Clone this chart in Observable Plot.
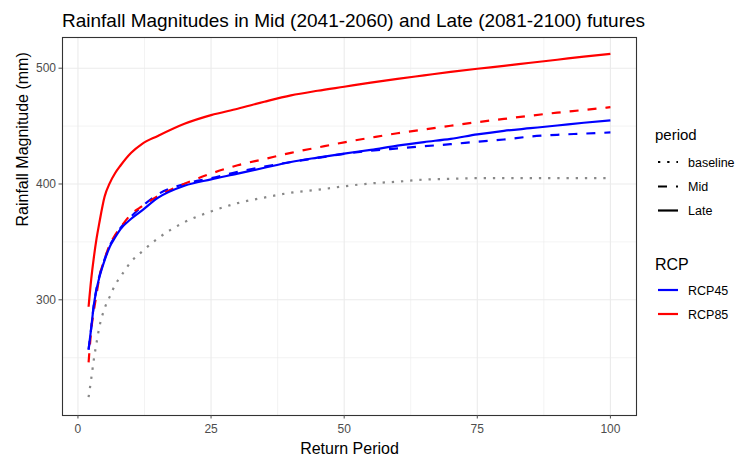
<!DOCTYPE html>
<html>
<head>
<meta charset="utf-8">
<script src="https://cdn.jsdelivr.net/npm/d3@7"></script>
<script src="https://cdn.jsdelivr.net/npm/@observablehq/plot@0.6"></script>
<style>
  body { margin: 0; background: #fff; font-family: "Liberation Sans", Arial, sans-serif; }
  #wrap { position: relative; width: 748px; height: 462px; overflow: hidden; background: #fff; }
  #wrap svg { position: absolute; left: 0; top: 0; }
</style>
</head>
<body>
<div id="wrap"></div>
<script>
// ---- Data ----
const returnPeriod = [2, 2.5, 3, 3.5, 4, 5, 6, 7, 8, 10, 12, 15, 20, 25, 30, 35, 40, 45, 50, 55, 60, 65, 70, 75, 80, 85, 90, 95, 100];
const baseline  = [216, 232, 249, 263, 276, 292.5, 303, 313, 320, 333, 341.5, 353, 367, 376.3, 383.5, 388.3, 392.5, 395, 398, 400.5, 402, 403.8, 404.5, 405, 405, 405, 405, 405, 405];
const rcp45Mid  = [257, 276, 296, 310, 320, 335, 347, 355, 362, 372, 380.5, 391, 400, 405, 410.5, 415, 419, 422.5, 426, 428.7, 430.7, 432.6, 434.4, 436.5, 438.4, 441, 442.5, 443.5, 444.5];
const rcp45Late = [257, 276, 296, 309, 319, 334, 346, 354, 361, 370, 377, 388, 398.5, 404, 408.9, 414, 419, 422.8, 426.3, 429.5, 433.1, 436.2, 439, 442.8, 445.9, 448.2, 450.5, 452.9, 455];
const rcp85Mid  = [246, 274, 291, 305, 319, 335, 348, 356, 362.5, 374, 380.7, 389.5, 400.2, 409, 416.2, 421.5, 426.9, 431.5, 436, 440, 443.8, 447, 450.3, 453.4, 456.2, 459, 461.6, 463.9, 466.3];
const rcp85Late = [294, 318, 337, 353, 366, 389, 401, 409.5, 416, 427, 434.5, 441.5, 452, 459.5, 465, 471, 476.5, 480.5, 484, 487.5, 490.8, 493.8, 496.8, 499.5, 502, 504.7, 507.3, 510, 512.4];

const periodLabels = ["baseline", "Mid", "Late"];
const rcpLabels = ["RCP45", "RCP85"];
const xTicks = [0, 25, 50, 75, 100];
const xMinor = [12.5, 37.5, 62.5, 87.5];
const yTicks = [300, 400, 500];
const yMinor = [250, 350, 450];

const titleText = "Rainfall Magnitudes in Mid (2041-2060) and Late (2081-2100) futures";
const xTitle = "Return Period";
const yTitle = "Rainfall Magnitude (mm)";

// ---- build tidy rows ----
const seriesDefs = [
  {rcp: "baseline", period: "baseline", values: baseline},
  {rcp: "RCP45", period: "Mid", values: rcp45Mid},
  {rcp: "RCP45", period: "Late", values: rcp45Late},
  {rcp: "RCP85", period: "Mid", values: rcp85Mid},
  {rcp: "RCP85", period: "Late", values: rcp85Late}
];
const rows = seriesDefs.flatMap(s => s.values.map((v, i) => ({x: returnPeriod[i], y: v, rcp: s.rcp, period: s.period, key: s.rcp + "-" + s.period})));

const colorDomain = ["baseline", "RCP45", "RCP85"];
const colorRange = ["#888888", "#0000FF", "#FF0000"];
const dashes = {baseline: "2.3,6.9", Mid: "9,9", Late: null};

const lineMarks = periodLabels.map(p => Plot.line(rows.filter(d => d.period === p), {
  x: "x", y: "y", z: "key", stroke: "rcp", strokeWidth: 2.2,
  strokeDasharray: dashes[p] || undefined, strokeLinecap: "butt", curve: "monotone-x"
}));

const chart = Plot.plot({
  width: 748, height: 462,
  marginLeft: 62, marginRight: 112, marginTop: 37, marginBottom: 47,
  style: {fontFamily: "'Liberation Sans', Arial, sans-serif", fontSize: "12px", background: "transparent"},
  x: {domain: [-2.9, 104.9]},
  y: {domain: [200.1, 526.5]},
  color: {domain: colorDomain, range: colorRange},
  marks: [
    Plot.ruleY(yMinor, {stroke: "#EBEBEB", strokeWidth: 0.6}),
    Plot.ruleX(xMinor, {stroke: "#EBEBEB", strokeWidth: 0.6}),
    Plot.ruleY(yTicks, {stroke: "#EBEBEB", strokeWidth: 1.1}),
    Plot.ruleX(xTicks, {stroke: "#EBEBEB", strokeWidth: 1.1}),
    ...lineMarks,
    Plot.frame({stroke: "#333333", strokeWidth: 1.1}),
    Plot.axisX({ticks: xTicks, tickSize: 3.5, tickPadding: 5, color: "#4D4D4D", fontSize: 12, label: null}),
    Plot.axisY({ticks: yTicks, tickSize: 3.5, tickPadding: 3, color: "#4D4D4D", fontSize: 12, label: null}),
    Plot.text([xTitle], {frameAnchor: "bottom", dy: 38, fontSize: 16, fill: "#000", lineAnchor: "bottom"}),
    Plot.text([yTitle], {frameAnchor: "left", dx: -40, rotate: -90, fontSize: 16, fill: "#000"})
  ]
});
const wrap = document.getElementById("wrap");
wrap.appendChild(chart);

// ---- title and legend overlay ----
const ov = d3.select(wrap).append("svg").attr("width", 748).attr("height", 462)
  .style("font-family", "'Liberation Sans', Arial, sans-serif");
ov.append("text").attr("x", 62).attr("y", 27).attr("font-size", 19).attr("fill", "#000").text(titleText);

const lx = 655;
ov.append("text").attr("x", lx).attr("y", 140).attr("font-size", 15).text("period");
const pY = [162, 186.5, 210.5];
periodLabels.forEach((p, i) => {
  ov.append("line").attr("x1", 658).attr("x2", 678).attr("y1", pY[i]).attr("y2", pY[i])
    .attr("stroke", "#000").attr("stroke-width", 2.2).attr("stroke-dasharray", dashes[p] || null);
  ov.append("text").attr("x", 688).attr("y", pY[i] + 4.5).attr("font-size", 12.5).text(p);
});
ov.append("text").attr("x", lx).attr("y", 270).attr("font-size", 16).text("RCP");
const rY = [290, 314];
rcpLabels.forEach((r, i) => {
  ov.append("line").attr("x1", 658).attr("x2", 678).attr("y1", rY[i]).attr("y2", rY[i])
    .attr("stroke", colorRange[i + 1]).attr("stroke-width", 2.2);
  ov.append("text").attr("x", 688).attr("y", rY[i] + 4.5).attr("font-size", 12.5).text(r);
});
</script>
</body>
</html>
